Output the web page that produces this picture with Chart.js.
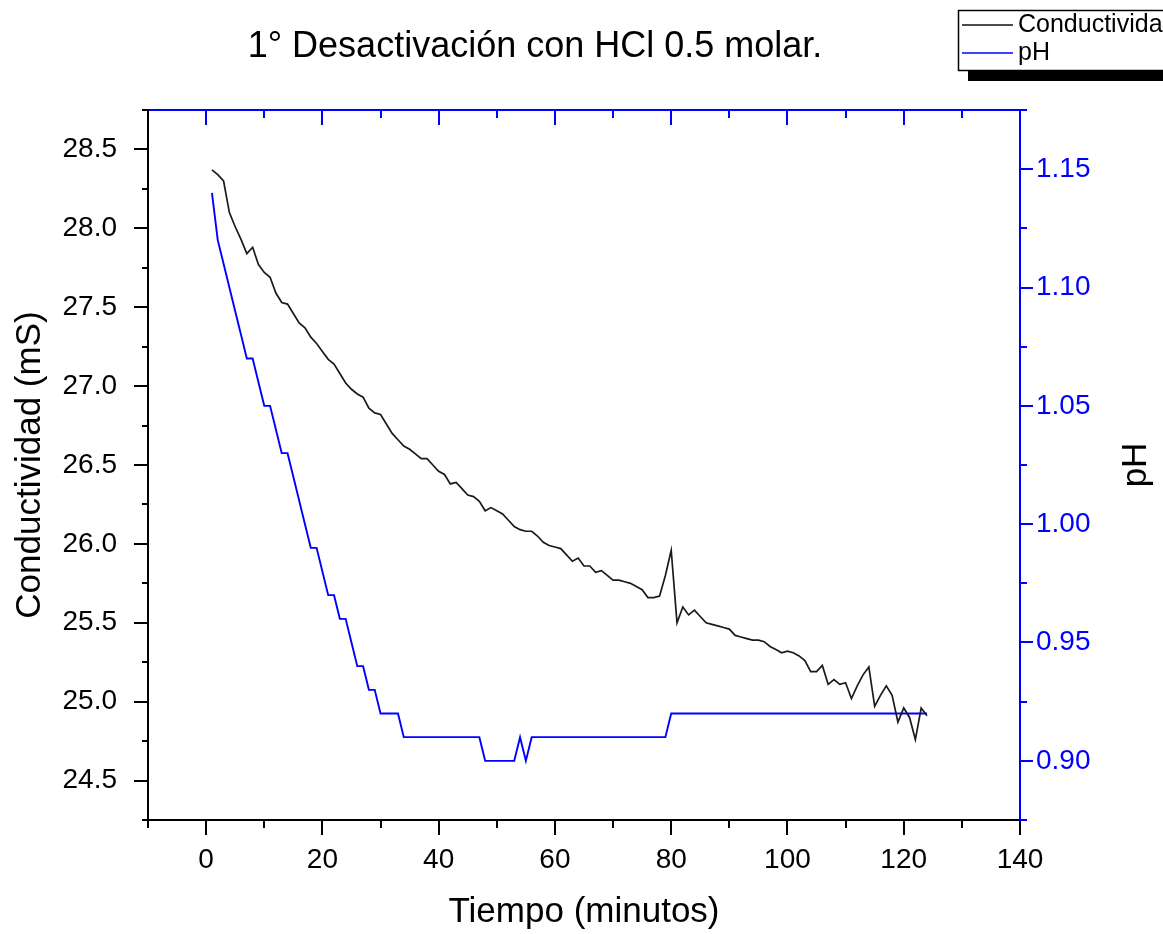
<!DOCTYPE html>
<html>
<head>
<meta charset="utf-8">
<title>Desactivación con HCl</title>
<script src="https://cdn.jsdelivr.net/npm/chart.js@4.4.0/dist/chart.umd.min.js"></script>
<style>
  html, body { margin: 0; padding: 0; background: #fff; }
  canvas { display: block; }
</style>
</head>
<body>
<canvas id="grafico" width="1163" height="934"></canvas>
<script>
// Lecturas cada minuto
const minutos = [
  1, 2, 3, 4, 5, 6, 7, 8, 9, 10, 11, 12, 13, 14, 15, 16, 17, 18, 19, 20,
  21, 22, 23, 24, 25, 26, 27, 28, 29, 30, 31, 32, 33, 34, 35, 36, 37, 38, 39, 40,
  41, 42, 43, 44, 45, 46, 47, 48, 49, 50, 51, 52, 53, 54, 55, 56, 57, 58, 59, 60,
  61, 62, 63, 64, 65, 66, 67, 68, 69, 70, 71, 72, 73, 74, 75, 76, 77, 78, 79, 80,
  81, 82, 83, 84, 85, 86, 87, 88, 89, 90, 91, 92, 93, 94, 95, 96, 97, 98, 99, 100,
  101, 102, 103, 104, 105, 106, 107, 108, 109, 110, 111, 112, 113, 114, 115, 116, 117, 118, 119, 120,
  121, 122, 123, 124
];

// Conductividad (mS)
const conductividad = [
  28.37, 28.34, 28.30, 28.10, 28.01, 27.93, 27.84, 27.88, 27.77, 27.72,
  27.69, 27.59, 27.53, 27.52, 27.46, 27.40, 27.37, 27.31, 27.27, 27.22,
  27.17, 27.14, 27.08, 27.02, 26.98, 26.95, 26.93, 26.86, 26.83, 26.82,
  26.76, 26.70, 26.66, 26.62, 26.60, 26.57, 26.54, 26.54, 26.50, 26.46,
  26.44, 26.38, 26.39, 26.35, 26.31, 26.30, 26.27, 26.21, 26.23, 26.21,
  26.19, 26.15, 26.11, 26.09, 26.08, 26.08, 26.05, 26.01, 25.99, 25.98,
  25.97, 25.93, 25.89, 25.91, 25.86, 25.86, 25.82, 25.83, 25.80, 25.77,
  25.77, 25.76, 25.75, 25.73, 25.71, 25.66, 25.66, 25.67, 25.80, 25.96,
  25.50, 25.60, 25.55, 25.58, 25.54, 25.50, 25.49, 25.48, 25.47, 25.46,
  25.42, 25.41, 25.40, 25.39, 25.39, 25.38, 25.35, 25.33, 25.31, 25.32,
  25.31, 25.29, 25.26, 25.19, 25.19, 25.23, 25.11, 25.14, 25.11, 25.12,
  25.02, 25.10, 25.17, 25.22, 24.97, 25.04, 25.10, 25.04, 24.87, 24.96,
  24.90, 24.76, 24.96, 24.91
];

// pH
const ph = [
  1.14, 1.12, 1.11, 1.10, 1.09, 1.08, 1.07, 1.07, 1.06, 1.05,
  1.05, 1.04, 1.03, 1.03, 1.02, 1.01, 1.00, 0.99, 0.99, 0.98,
  0.97, 0.97, 0.96, 0.96, 0.95, 0.94, 0.94, 0.93, 0.93, 0.92,
  0.92, 0.92, 0.92, 0.91, 0.91, 0.91, 0.91, 0.91, 0.91, 0.91,
  0.91, 0.91, 0.91, 0.91, 0.91, 0.91, 0.91, 0.90, 0.90, 0.90,
  0.90, 0.90, 0.90, 0.91, 0.90, 0.91, 0.91, 0.91, 0.91, 0.91,
  0.91, 0.91, 0.91, 0.91, 0.91, 0.91, 0.91, 0.91, 0.91, 0.91,
  0.91, 0.91, 0.91, 0.91, 0.91, 0.91, 0.91, 0.91, 0.91, 0.92,
  0.92, 0.92, 0.92, 0.92, 0.92, 0.92, 0.92, 0.92, 0.92, 0.92,
  0.92, 0.92, 0.92, 0.92, 0.92, 0.92, 0.92, 0.92, 0.92, 0.92,
  0.92, 0.92, 0.92, 0.92, 0.92, 0.92, 0.92, 0.92, 0.92, 0.92,
  0.92, 0.92, 0.92, 0.92, 0.92, 0.92, 0.92, 0.92, 0.92, 0.92,
  0.92, 0.92, 0.92, 0.92
];

const ticksTiempo = [0, 20, 40, 60, 80, 100, 120, 140];
const ticksConductividad = [24.5, 25.0, 25.5, 26.0, 26.5, 27.0, 27.5, 28.0, 28.5];
const ticksPh = [0.90, 0.95, 1.00, 1.05, 1.10, 1.15];

const FUENTE = '"Liberation Sans", Arial, Helvetica, sans-serif';
const AZUL = '#0000ff';
const NEGRO = '#000000';

function fijarTicks(valores) {
  return (scale) => { scale.ticks = valores.map(v => ({ value: v })); };
}

// Ejes tipo marco: líneas, marcas mayores y menores en los cuatro lados
const marcoEjes = {
  id: 'marcoEjes',
  afterDatasetsDraw(chart) {
    const { ctx, chartArea: a, scales } = chart;
    ctx.save();
    ctx.lineWidth = 2;
    ctx.lineCap = 'butt';

    // eje X: abajo (negro, hacia fuera) y arriba (azul, hacia dentro)
    for (let v = scales.x.min; v <= scales.x.max + 1e-9; v += 10) {
      const px = Math.round(scales.x.getPixelForValue(v));
      const largo = (Math.abs(v % 20) < 1e-9) ? 15 : 8;
      ctx.strokeStyle = NEGRO;
      ctx.beginPath(); ctx.moveTo(px, a.bottom); ctx.lineTo(px, a.bottom + largo); ctx.stroke();
      ctx.strokeStyle = AZUL;
      ctx.beginPath(); ctx.moveTo(px, a.top); ctx.lineTo(px, a.top + largo); ctx.stroke();
    }

    // eje izquierdo (conductividad)
    ctx.strokeStyle = NEGRO;
    for (let v = scales.y.min; v <= scales.y.max + 1e-9; v += 0.25) {
      const py = Math.round(scales.y.getPixelForValue(v));
      const mayor = Math.abs(v * 2 - Math.round(v * 2)) < 1e-6;
      ctx.beginPath(); ctx.moveTo(a.left - (mayor ? 14 : 6), py); ctx.lineTo(a.left, py); ctx.stroke();
    }

    // eje derecho (pH)
    ctx.strokeStyle = AZUL;
    for (let v = scales.y1.min; v <= scales.y1.max + 1e-9; v += 0.025) {
      const py = Math.round(scales.y1.getPixelForValue(v));
      const mayor = Math.abs(v * 20 - Math.round(v * 20)) < 1e-6;
      ctx.beginPath(); ctx.moveTo(a.right, py); ctx.lineTo(a.right + (mayor ? 13 : 7), py); ctx.stroke();
    }

    // líneas de los ejes
    ctx.strokeStyle = AZUL;
    ctx.beginPath(); ctx.moveTo(a.left, a.top); ctx.lineTo(a.right + 1, a.top); ctx.stroke();
    ctx.beginPath(); ctx.moveTo(a.right, a.top - 1); ctx.lineTo(a.right, a.bottom + 1); ctx.stroke();
    ctx.strokeStyle = NEGRO;
    ctx.beginPath(); ctx.moveTo(a.left - 1, a.bottom); ctx.lineTo(a.right - 1, a.bottom); ctx.stroke();
    ctx.beginPath(); ctx.moveTo(a.left, a.top - 1); ctx.lineTo(a.left, a.bottom + 1); ctx.stroke();
    ctx.restore();
  },
  afterDraw(chart) {
    const { ctx, chartArea: a } = chart;
    ctx.save();

    // título
    ctx.fillStyle = NEGRO;
    ctx.font = '36px ' + FUENTE;
    ctx.textAlign = 'center';
    ctx.textBaseline = 'middle';
    ctx.fillText('1° Desactivación con HCl 0.5 molar.', 535, 47);

    // título del eje pH, girado como el izquierdo
    ctx.save();
    ctx.translate(1136, (a.top + a.bottom) / 2);
    ctx.rotate(-Math.PI / 2);
    ctx.font = '35px ' + FUENTE;
    ctx.fillText('pH', 0, 0);
    ctx.restore();

    // leyenda con sombra
    ctx.fillStyle = NEGRO;
    ctx.fillRect(968, 20, 260, 61);
    ctx.fillStyle = '#ffffff';
    ctx.fillRect(958, 10, 260, 61);
    ctx.lineWidth = 1.5;
    ctx.strokeStyle = NEGRO;
    ctx.strokeRect(958.5, 10.5, 260, 60);

    ctx.lineWidth = 1.5;
    ctx.strokeStyle = '#111111';
    ctx.beginPath(); ctx.moveTo(962, 25); ctx.lineTo(1013, 25); ctx.stroke();
    ctx.strokeStyle = AZUL;
    ctx.beginPath(); ctx.moveTo(962, 53); ctx.lineTo(1013, 53); ctx.stroke();

    ctx.fillStyle = NEGRO;
    ctx.font = '25px ' + FUENTE;
    ctx.textAlign = 'left';
    ctx.textBaseline = 'middle';
    ctx.fillText('Conductividad', 1018, 25);
    ctx.fillText('pH', 1018, 53);
    ctx.restore();
  }
};

const ctx = document.getElementById('grafico').getContext('2d');
new Chart(ctx, {
  type: 'line',
  data: {
    datasets: [{
      label: 'Conductividad',
      data: minutos.map((t, i) => ({ x: t, y: conductividad[i] })),
      borderColor: '#1a1a1a',
      borderWidth: 1.7,
      pointRadius: 0,
      tension: 0,
      yAxisID: 'y'
    }, {
      label: 'pH',
      data: minutos.map((t, i) => ({ x: t, y: ph[i] })),
      borderColor: AZUL,
      borderWidth: 1.9,
      pointRadius: 0,
      tension: 0,
      yAxisID: 'y1'
    }]
  },
  options: {
    responsive: false,
    animation: false,
    devicePixelRatio: 1,
    layout: { padding: { top: 110, left: 0, right: 0, bottom: 0 } },
    plugins: {
      legend: { display: false },
      title: { display: false },
      tooltip: { enabled: false }
    },
    scales: {
      x: {
        type: 'linear',
        min: -10,
        max: 140,
        afterBuildTicks: fijarTicks(ticksTiempo),
        afterFit: (s) => { s.height = 114; },
        grid: { display: false, drawTicks: false },
        border: { display: false },
        ticks: { color: NEGRO, font: { family: FUENTE, size: 28 }, padding: 23, maxRotation: 0 },
        title: {
          display: true,
          text: 'Tiempo (minutos)',
          color: NEGRO,
          font: { family: FUENTE, size: 35 },
          padding: { top: 0, bottom: 1 }
        }
      },
      y: {
        type: 'linear',
        position: 'left',
        min: 24.25,
        max: 28.75,
        afterBuildTicks: fijarTicks(ticksConductividad),
        afterFit: (s) => { s.width = 148; },
        grid: { display: false, drawTicks: false },
        border: { display: false },
        ticks: {
          color: NEGRO,
          font: { family: FUENTE, size: 28 },
          padding: 31,
          callback: (v) => Number(v).toFixed(1)
        },
        title: {
          display: true,
          text: 'Conductividad (mS)',
          color: NEGRO,
          font: { family: FUENTE, size: 35 },
          padding: { top: 9, bottom: 0 }
        }
      },
      y1: {
        type: 'linear',
        position: 'right',
        min: 0.875,
        max: 1.175,
        afterBuildTicks: fijarTicks(ticksPh),
        afterFit: (s) => { s.width = 143; },
        grid: { display: false, drawTicks: false },
        border: { display: false },
        ticks: {
          color: AZUL,
          font: { family: FUENTE, size: 28 },
          padding: 16,
          callback: (v) => Number(v).toFixed(2)
        }
      }
    }
  },
  plugins: [marcoEjes]
});
</script>
</body>
</html>
